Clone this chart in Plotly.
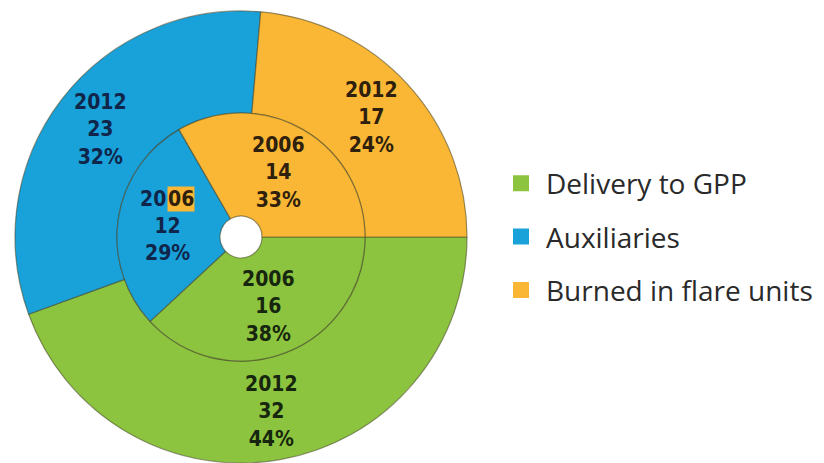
import math
import plotly.graph_objects as go

# ---- data ----
categories = ["Delivery to GPP", "Auxiliaries", "Burned in flare units"]
values_2012 = [32, 23, 17]
values_2006 = [16, 12, 14]
year_outer = "2012"
year_inner = "2006"

colors = ["#8CC43F", "#19A1D9", "#F9B735"]
text_colors = ["#17260e", "#10254a", "#2e200c"]

W, H = 824, 463
CX, CY = 241, 237          # pie centre (px)
R_OUT, R_MID, R_HOLE = 226, 124, 21
START = 90                 # first slice starts at 3 o'clock, clockwise

line_style = dict(color="rgba(70,70,40,0.55)", width=1.2)
lab_family = "DejaVu Sans Condensed, Liberation Sans Narrow, Roboto, sans-serif"
lab_size = 21
line_h = lab_size * 1.3

fig = go.Figure()

fig.add_trace(go.Pie(
    labels=categories, values=values_2012, textinfo="none",
    marker=dict(colors=colors, line=line_style),
    sort=False, direction="clockwise", rotation=START,
    hole=R_MID / R_OUT,
    domain=dict(x=[(CX - R_OUT) / W, (CX + R_OUT) / W],
                y=[1 - (CY + R_OUT) / H, 1 - (CY - R_OUT) / H]),
    showlegend=False, hoverinfo="skip",
))
fig.add_trace(go.Pie(
    labels=categories, values=values_2006, textinfo="none",
    marker=dict(colors=colors, line=line_style),
    sort=False, direction="clockwise", rotation=START,
    hole=R_HOLE / R_MID,
    domain=dict(x=[(CX - R_MID) / W, (CX + R_MID) / W],
                y=[1 - (CY + R_MID) / H, 1 - (CY - R_MID) / H]),
    showlegend=False, hoverinfo="skip",
))


def ring_labels(values, year, r_label, r_shift=0.0):
    total = sum(values)
    acc = 0.0
    out = []
    for v, tc in zip(values, text_colors):
        mid = START + 360.0 * (acc + v / 2.0) / total
        acc += v
        a = math.radians(mid)
        px = CX + r_label * math.sin(a)
        py = CY - r_label * math.cos(a)
        pct = round(100.0 * v / total)
        out.append(dict(px=px, py=py, year=year, v=v, pct=pct, tc=tc))
    return out


def ann(px, py, text, color, xanchor="center", **extra):
    d = dict(
        x=px / W, y=1 - py / H, xref="paper", yref="paper",
        text=text, showarrow=False, xanchor=xanchor, yanchor="middle",
        font=dict(family=lab_family, size=lab_size, weight=700, color=color),
    )
    d.update(extra)
    return d


annotations = []
labels_outer = ring_labels(values_2012, year_outer, (R_OUT + R_MID) / 2 + 2)
labels_inner = ring_labels(values_2006, year_inner, (R_HOLE + R_MID) / 2 + 2)

for i, lb in enumerate(labels_outer + labels_inner):
    txt = f"{lb['year']}<br>{lb['v']}<br>{lb['pct']}%"
    if lb is labels_inner[1]:
        # inner Auxiliaries label: "06" of the year is highlighted
        yr = lb["year"]
        annotations.append(ann(lb["px"], lb["py"] - line_h, yr[:2], lb["tc"],
                               xanchor="right", borderpad=0))
        annotations.append(ann(lb["px"], lb["py"] - line_h, yr[2:], "#2e200c",
                               xanchor="left", borderpad=0, bgcolor="#F9B735"))
        annotations.append(ann(lb["px"], lb["py"] + line_h / 2,
                               f"{lb['v']}<br>{lb['pct']}%", lb["tc"]))
    else:
        annotations.append(ann(lb["px"], lb["py"], txt, lb["tc"]))

# legend entries
for name, col in zip(categories, colors):
    fig.add_trace(go.Scatter(
        x=[None], y=[None], mode="markers", name=name, legendgroup=name,
        marker=dict(symbol="square", size=16, color=col),
        hoverinfo="skip",
    ))

fig.update_layout(
    width=W, height=H,
    margin=dict(l=0, r=0, t=0, b=0, pad=0),
    paper_bgcolor="white", plot_bgcolor="white",
    xaxis=dict(visible=False), yaxis=dict(visible=False),
    annotations=annotations,
    legend=dict(
        x=496 / W, xanchor="left", y=1 - 237 / H, yanchor="middle",
        font=dict(family="Open Sans, sans-serif", size=28, color="#2a2a2a"),
        tracegroupgap=14, traceorder="grouped", itemsizing="trace",
        itemwidth=40, bgcolor="rgba(0,0,0,0)",
    ),
)

fig.write_html(
    "out.html",
    config={"displayModeBar": False},
    post_script="document.body.style.margin='0';document.body.style.overflow='hidden';",
)
